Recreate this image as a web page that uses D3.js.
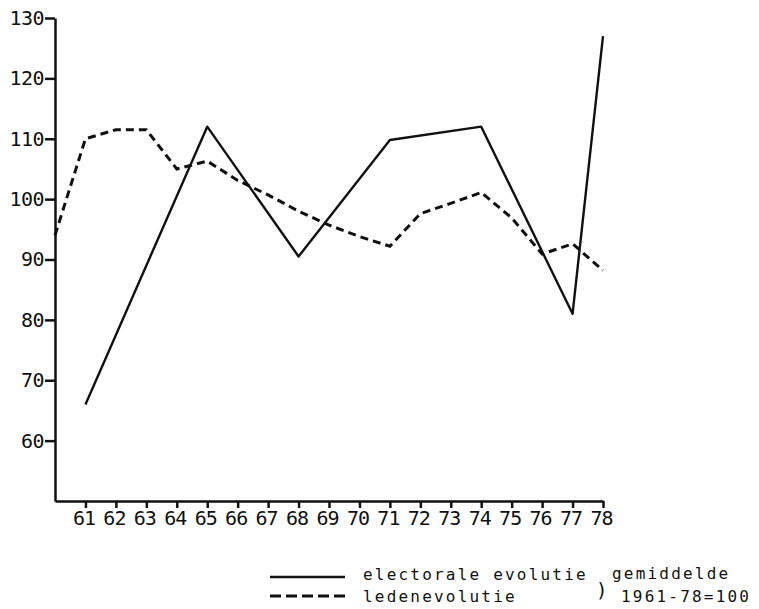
<!DOCTYPE html>
<html>
<head>
<meta charset="utf-8">
<script src="https://d3js.org/d3.v7.min.js"></script>
<style>
  body { margin: 0; background: #fff; }
  svg text { font-family: "DejaVu Sans Mono", "Liberation Mono", monospace; fill: #111; }
</style>
</head>
<body>
<svg width="759" height="609"></svg>
<script>
// years 1960..1978 (labels shown from 61)
const years = d3.range(60, 79);
const xLabels = ["61","62","63","64","65","66","67","68","69","70","71","72","73","74","75","76","77","78"];
const yTicks = [60, 70, 80, 90, 100, 110, 120, 130];

// electorale evolutie (only election years)
const electYears = [61, 65, 68, 71, 74, 77, 78];
const electValues = [66, 112, 90.5, 109.8, 112, 81, 127];

// ledenevolutie (every year 60..78)
const memberValues = [94, 110, 111.5, 111.5, 105, 106.3, 103.1, 100.7, 98, 95.7, 93.8, 92.2, 97.6, 99.3, 101.1, 96.9, 90.9, 92.6, 88.2];

const svg = d3.select("svg");

const x = d3.scaleLinear().domain([60, 78]).range([55, 603]);
const y = d3.scaleLinear().domain([50, 130]).range([501, 18]);

// y axis
const yAxis = svg.append("g")
    .attr("transform", "translate(55,0)")
    .call(d3.axisLeft(y).tickValues(yTicks).tickSize(10).tickSizeOuter(0).tickPadding(1));
yAxis.select(".domain").attr("stroke", "#111").attr("stroke-width", 2.5);
yAxis.selectAll(".tick line").attr("stroke", "#111").attr("stroke-width", 2.5);
yAxis.selectAll(".tick text").attr("font-size", "20px").attr("fill", "#111")
    .attr("letter-spacing", "-0.5px");

// x axis
const xAxis = svg.append("g")
    .attr("transform", "translate(0,501)")
    .call(d3.axisBottom(x).tickValues(d3.range(61, 79)).tickFormat((d, i) => xLabels[i])
        .tickSize(7).tickSizeOuter(0).tickPadding(3));
xAxis.select(".domain").attr("stroke", "#111").attr("stroke-width", 2.5);
xAxis.selectAll(".tick line").attr("stroke", "#111").attr("stroke-width", 2.5);
xAxis.selectAll(".tick text").attr("font-size", "20px").attr("fill", "#111")
    .attr("letter-spacing", "-1px").attr("dx", "-2px");

const line = d3.line().x(d => x(d[0])).y(d => y(d[1]));

// solid line
svg.append("path")
    .datum(electYears.map((d, i) => [d, electValues[i]]))
    .attr("d", line)
    .attr("fill", "none")
    .attr("stroke", "#111")
    .attr("stroke-width", 2.4)
    .attr("stroke-linejoin", "round");

// dashed line
svg.append("path")
    .datum(years.map((d, i) => [d, memberValues[i]]))
    .attr("d", line)
    .attr("fill", "none")
    .attr("stroke", "#111")
    .attr("stroke-width", 3)
    .attr("stroke-dasharray", "8,5");

// legend
const legend = svg.append("g");
legend.append("line")
    .attr("x1", 270).attr("x2", 345).attr("y1", 577).attr("y2", 577)
    .attr("stroke", "#111").attr("stroke-width", 2.4);
legend.append("line")
    .attr("x1", 270).attr("x2", 345).attr("y1", 596).attr("y2", 596)
    .attr("stroke", "#111").attr("stroke-width", 3).attr("stroke-dasharray", "11,5");

const lg = (t, xx, yy) => legend.append("text")
    .attr("x", xx).attr("y", yy).attr("font-size", "16px")
    .attr("letter-spacing", "2.2px").text(t);
lg("electorale evolutie", 363, 580);
lg("ledenevolutie", 363, 602);
lg("gemiddelde", 612, 579);
lg("1961-78=100", 621, 602);
legend.append("text").attr("x", 596).attr("y", 597).attr("font-size", "19px")
    .text(")");
</script>
</body>
</html>
